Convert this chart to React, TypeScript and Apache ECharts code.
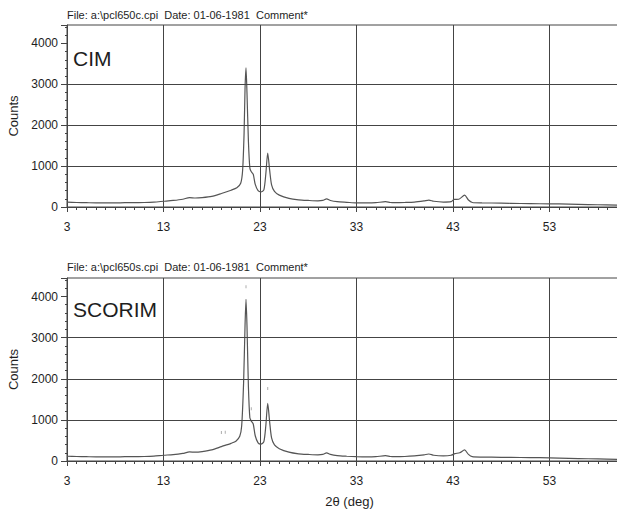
import React, { useEffect, useRef } from 'react';
import * as echarts from 'echarts';

const cimAngles = [3, 4, 5, 6, 7, 8, 9, 10, 11, 12, 13, 14, 15, 15.7, 16.3, 17, 18, 19, 20, 20.6, 21.0, 21.2, 21.35, 21.45, 21.55, 21.65, 21.8, 21.95, 22.1, 22.3, 22.5, 22.8, 23.1, 23.4, 23.6, 23.8, 24.0, 24.2, 24.5, 25, 26, 27, 28, 29, 29.5, 29.9, 30.3, 31, 32, 33, 34, 35, 36, 36.5, 37, 38, 39, 40, 40.5, 41, 42, 42.8, 43.1, 43.6, 44.2, 44.6, 45, 46, 48, 50, 52, 54, 56, 58, 60];
const cimCounts = [120, 110, 105, 100, 100, 100, 105, 105, 110, 120, 140, 160, 190, 230, 220, 230, 260, 330, 410, 470, 580, 900, 1800, 2900, 3400, 2800, 1600, 950, 860, 800, 560, 400, 370, 420, 800, 1320, 900, 540, 380, 290, 210, 175, 160, 150, 160, 200, 160, 130, 115, 100, 100, 105, 130, 110, 105, 110, 120, 150, 170, 140, 120, 130, 185, 190, 290, 170, 110, 100, 95, 85, 80, 75, 65, 55, 45];

const scorimAngles = [3, 4, 5, 6, 7, 8, 9, 10, 11, 12, 13, 14, 15, 15.7, 16.3, 17, 18, 19, 20, 20.5, 20.9, 21.1, 21.3, 21.45, 21.55, 21.65, 21.8, 21.95, 22.1, 22.3, 22.5, 22.8, 23.1, 23.4, 23.6, 23.8, 24.0, 24.2, 24.5, 25, 26, 27, 28, 29, 29.5, 29.9, 30.3, 31, 32, 33, 34, 35, 36, 36.5, 37, 38, 39, 40, 40.5, 41, 42, 42.8, 43.2, 43.7, 44.2, 44.6, 45, 46, 48, 50, 52, 54, 56, 58, 60];
const scorimCounts = [115, 110, 105, 100, 100, 100, 105, 105, 110, 120, 140, 155, 185, 220, 215, 230, 270, 350, 430, 480, 600, 850, 1900, 3300, 3930, 3300, 1800, 1050, 970, 900, 620, 440, 410, 470, 850, 1400, 950, 560, 390, 300, 215, 175, 160, 150, 160, 200, 160, 130, 115, 105, 100, 105, 130, 110, 105, 110, 125, 150, 170, 140, 125, 140, 180, 200, 270, 160, 105, 95, 90, 85, 80, 70, 60, 50, 40];

const scorimMarkAngles = [19.0, 19.4, 21.55, 22.1, 23.8];
const scorimMarkCounts = [690, 700, 4240, 1270, 1760];

const xTickStart = 3;
const xTickStep = 10;
const xEnd = 63;
const xLastLabel = 53;
const yMax = 4450;
const yTickStep = 1000;
const gridCounts = [1000, 2000, 3000];

const fileTitles = [
  'File: a:\\pcl650c.cpi  Date: 01-06-1981  Comment*',
  'File: a:\\pcl650s.cpi  Date: 01-06-1981  Comment*',
];
const sampleNames = ['CIM', 'SCORIM'];
const yName = 'Counts';
const xName = '2θ (deg)';

const FONT = '"Liberation Sans", Arial, Helvetica, sans-serif';
const INK = '#1e1e1e';
const LINE = '#444';

export default function App() {
  const ref = useRef<HTMLDivElement>(null);
  useEffect(() => {
    const chart = echarts.init(ref.current!, null, { renderer: 'svg' });

    const mkX = (idx: number) => ({
      type: 'value',
      gridIndex: idx,
      min: xTickStart,
      max: xEnd,
      interval: xTickStep,
      name: idx === 1 ? xName : '',
      nameLocation: 'middle',
      nameGap: 34,
      nameTextStyle: { fontFamily: FONT, fontSize: 13, color: INK, padding: [0, 14, 0, 0] },
      axisLine: { show: true, onZero: false, lineStyle: { color: LINE, width: 1 } },
      axisTick: { show: true, length: 5, lineStyle: { color: LINE } },
      minorTick: { show: true, splitNumber: 10, length: 3, lineStyle: { color: LINE } },
      axisLabel: {
        fontFamily: FONT,
        fontSize: 12,
        color: INK,
        margin: 14,
        formatter: (v: number) => (v <= xLastLabel ? String(v) : ''),
      },
      splitLine: { show: true, lineStyle: { color: LINE, width: 1 } },
    });
    const mkY = (idx: number) => ({
      type: 'value',
      gridIndex: idx,
      min: 0,
      max: yMax,
      interval: yTickStep,
      name: yName,
      nameLocation: 'middle',
      nameGap: 40,
      nameTextStyle: { fontFamily: FONT, fontSize: 13, color: INK },
      axisLine: { show: true, lineStyle: { color: LINE, width: 1 } },
      axisTick: { show: true, length: 6, lineStyle: { color: LINE } },
      minorTick: { show: true, splitNumber: 5, length: 2, lineStyle: { color: LINE } },
      axisLabel: {
        fontFamily: FONT,
        fontSize: 12,
        color: INK,
        margin: 9,
        formatter: (v: number) => (v % yTickStep === 0 ? String(v) : ''),
      },
      splitLine: { show: false },
    });

    const mkLine = (idx: number, xs: number[], ys: number[]) => ({
      type: 'line',
      xAxisIndex: idx,
      yAxisIndex: idx,
      data: xs.map((x, i) => [x, ys[i]]),
      showSymbol: false,
      smooth: 0.25,
      lineStyle: { color: '#555', width: 1.2 },
      markLine: {
        silent: true,
        symbol: 'none',
        label: { show: false },
        lineStyle: { color: LINE, width: 1, type: 'solid' },
        data: gridCounts.map((v) => ({ yAxis: v })),
      },
      z: 3,
    });

    const gridBase = {
      left: 67,
      right: -29,
      show: true,
      borderColor: LINE,
      borderWidth: 1,
      backgroundColor: 'transparent',
      containLabel: false,
      outerBoundsMode: 'none',
    };

    chart.setOption({
      animation: false,
      backgroundColor: '#fff',
      title: [
        { text: fileTitles[0], left: 67, top: 9, padding: 0, textStyle: { fontFamily: FONT, fontSize: 11, fontWeight: 'normal', color: INK } },
        { text: sampleNames[0], left: 73, top: 48, padding: 0, textStyle: { fontFamily: FONT, fontSize: 21, fontWeight: 'normal', color: INK } },
        { text: fileTitles[1], left: 67, top: 261, padding: 0, textStyle: { fontFamily: FONT, fontSize: 11, fontWeight: 'normal', color: INK } },
        { text: sampleNames[1], left: 73, top: 299, padding: 0, textStyle: { fontFamily: FONT, fontSize: 21, fontWeight: 'normal', color: INK } },
      ],
      grid: [
        { ...gridBase, top: 25, height: 182 },
        { ...gridBase, top: 278, height: 183 },
      ],
      xAxis: [mkX(0), mkX(1)],
      yAxis: [mkY(0), mkY(1)],
      series: [
        mkLine(0, cimAngles, cimCounts),
        mkLine(1, scorimAngles, scorimCounts),
        {
          type: 'scatter',
          xAxisIndex: 1,
          yAxisIndex: 1,
          data: scorimMarkAngles.map((x, i) => [x, scorimMarkCounts[i]]),
          symbol: 'rect',
          symbolSize: [1, 3],
          itemStyle: { color: '#999' },
          silent: true,
          z: 2,
        },
      ],
    });
    return () => chart.dispose();
  }, []);
  return <div ref={ref} style={{ position: 'absolute', left: 0, top: 0, width: 617, height: 510 }} />;
}
